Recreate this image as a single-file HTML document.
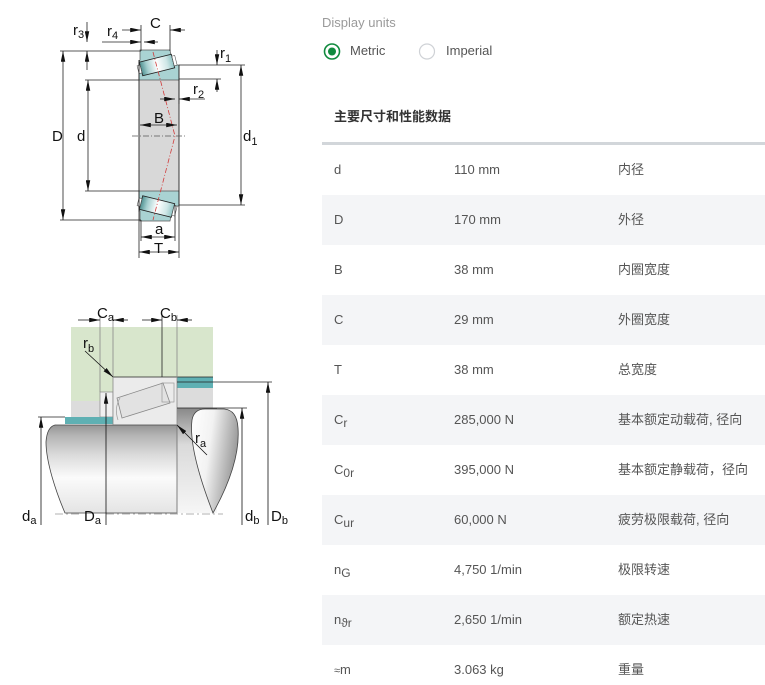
<!DOCTYPE html>
<html><head><meta charset="utf-8"><style>
html,body{margin:0;padding:0;background:#fff;width:765px;height:685px;overflow:hidden;position:relative;font-family:"Liberation Sans","Noto Sans CJK SC",sans-serif;}
.t{position:absolute;font-size:13px;line-height:16px;white-space:nowrap;}
.row{position:absolute;left:322px;width:443px;height:50px;font-size:13px;color:#555;line-height:50px;}
.row span{position:absolute;top:0;}
.c1{left:12px}.c2{left:132px}.c3{left:296px}
.g{background:#f4f5f7}
sub{font-size:12px;vertical-align:-3px;line-height:0}
</style></head><body>
<svg width="310" height="685" style="position:absolute;left:0;top:0" font-family="Liberation Sans, sans-serif">
<defs>
<marker id="ar" viewBox="0 0 12 5" refX="12" refY="2.5" markerWidth="11" markerHeight="4.5" markerUnits="userSpaceOnUse" orient="auto-start-reverse"><path d="M0,0 L12,2.5 L0,5 z" fill="#111"/></marker>
<linearGradient id="roll" x1="0" y1="0" x2="1" y2="0"><stop offset="0" stop-color="#4f9090"/><stop offset="0.2" stop-color="#a6d0d0"/><stop offset="0.5" stop-color="#ffffff"/><stop offset="0.8" stop-color="#cfe7e7"/><stop offset="1" stop-color="#8fc4c4"/></linearGradient>
<linearGradient id="shaft" x1="0" y1="0" x2="0" y2="1"><stop offset="0" stop-color="#959595"/><stop offset="0.12" stop-color="#b4b4b4"/><stop offset="0.35" stop-color="#dcdcdc"/><stop offset="0.6" stop-color="#fbfbfb"/><stop offset="1" stop-color="#e4e4e4"/></linearGradient>
<linearGradient id="shoul" x1="0" y1="0" x2="0" y2="1"><stop offset="0" stop-color="#888"/><stop offset="0.35" stop-color="#dadada"/><stop offset="1" stop-color="#f6f6f6"/></linearGradient>
<linearGradient id="tear" x1="0" y1="0" x2="1" y2="0.3"><stop offset="0" stop-color="#ffffff"/><stop offset="0.45" stop-color="#f2f2f2"/><stop offset="1" stop-color="#9a9a9a"/></linearGradient>
</defs>

<!-- ===== TOP DIAGRAM ===== -->
<rect x="139" y="80" width="40" height="111" fill="#d8d8d8"/>
<polygon points="140,50 170,50 171,56 170,65 179,65 179,80 139,80 139,62 140,60" fill="#a9d3d3" stroke="#555" stroke-width="0.7"/>
<polygon points="140,221 170,221 171,215 170,206 179,206 179,191 139,191 139,209 140,211" fill="#a9d3d3" stroke="#555" stroke-width="0.7"/>
<g transform="translate(157,65) rotate(-14)"><rect x="-16.5" y="-7" width="33" height="14" fill="url(#roll)" stroke="#222" stroke-width="0.8"/><rect x="16.5" y="-5" width="3" height="10" fill="#fff" stroke="#555" stroke-width="0.6"/><rect x="-19.5" y="-4" width="3" height="8" fill="#fff" stroke="#555" stroke-width="0.6"/></g>
<g transform="translate(157,206.5) rotate(14)"><rect x="-16.5" y="-7" width="33" height="14" fill="url(#roll)" stroke="#222" stroke-width="0.8"/><rect x="16.5" y="-5" width="3" height="10" fill="#fff" stroke="#555" stroke-width="0.6"/><rect x="-19.5" y="-4" width="3" height="8" fill="#fff" stroke="#555" stroke-width="0.6"/></g>
<g stroke="#222" stroke-width="0.9" fill="none">
<line x1="139" y1="60" x2="139" y2="212"/>
<line x1="179" y1="65" x2="179" y2="206"/>
</g>
<line x1="132" y1="136" x2="185" y2="136" stroke="#555" stroke-width="0.7" stroke-dasharray="6,2,1,2"/>
<polyline points="153,52 175,136 153,220" fill="none" stroke="#d03c3c" stroke-width="0.8" stroke-dasharray="5,2,1,2"/>

<g stroke="#222" stroke-width="0.8" fill="none">
<line x1="60" y1="51" x2="141" y2="51"/>
<line x1="60" y1="220" x2="141" y2="220"/>
<line x1="85" y1="80" x2="139" y2="80"/>
<line x1="85" y1="191" x2="139" y2="191"/>
<line x1="179" y1="65" x2="245" y2="65"/>
<line x1="179" y1="205" x2="245" y2="205"/>
<line x1="179" y1="79" x2="221" y2="79"/>
<line x1="141" y1="25" x2="141" y2="51"/>
<line x1="170" y1="25" x2="170" y2="51"/>
<line x1="139" y1="212" x2="139" y2="258"/>
<line x1="179" y1="205" x2="179" y2="258"/>
<line x1="175" y1="205" x2="175" y2="241"/>
<line x1="141" y1="220" x2="141" y2="241"/>
<line x1="179" y1="80" x2="179" y2="104"/>
<line x1="63" y1="51" x2="63" y2="220" marker-start="url(#ar)" marker-end="url(#ar)"/>
<line x1="88" y1="80" x2="88" y2="191" marker-start="url(#ar)" marker-end="url(#ar)"/>
<line x1="241" y1="65" x2="241" y2="205" marker-start="url(#ar)" marker-end="url(#ar)"/>
<line x1="122" y1="30" x2="141" y2="30" marker-end="url(#ar)"/>
<line x1="185" y1="30" x2="170" y2="30" marker-end="url(#ar)"/>
<line x1="102" y1="42" x2="141" y2="42" marker-end="url(#ar)"/>
<line x1="158" y1="42" x2="144" y2="42" marker-end="url(#ar)"/>
<line x1="87" y1="22" x2="87" y2="42" marker-end="url(#ar)"/>
<line x1="87" y1="70" x2="87" y2="51" marker-end="url(#ar)"/>
<line x1="217" y1="50" x2="217" y2="65" marker-end="url(#ar)"/>
<line x1="217" y1="92" x2="217" y2="79" marker-end="url(#ar)"/>
<line x1="160" y1="99" x2="175" y2="99" marker-end="url(#ar)"/>
<line x1="205" y1="99" x2="179" y2="99" marker-end="url(#ar)"/>
<line x1="140" y1="125" x2="177" y2="125" marker-start="url(#ar)" marker-end="url(#ar)"/>
<line x1="141" y1="237" x2="175" y2="237" marker-start="url(#ar)" marker-end="url(#ar)"/>
<line x1="139" y1="252" x2="179" y2="252" marker-start="url(#ar)" marker-end="url(#ar)"/>
</g>
<g font-size="15" fill="#111">
<text x="73" y="35">r<tspan font-size="11" dy="3">3</tspan></text>
<text x="107" y="36">r<tspan font-size="11" dy="3">4</tspan></text>
<text x="150" y="28">C</text>
<text x="220" y="58">r<tspan font-size="11" dy="4">1</tspan></text>
<text x="193" y="94">r<tspan font-size="11" dy="4">2</tspan></text>
<text x="52" y="141">D</text>
<text x="77" y="141">d</text>
<text x="154" y="123">B</text>
<text x="243" y="141">d<tspan font-size="11" dy="4">1</tspan></text>
<text x="155" y="234">a</text>
<text x="154" y="253">T</text>
</g>

<!-- ===== BOTTOM DIAGRAM ===== -->
<rect x="71" y="327" width="142" height="50" fill="#d8e6cc"/>
<rect x="71" y="377" width="42" height="15" fill="#d8e6cc"/>
<rect x="71" y="392" width="29" height="9" fill="#d8e6cc"/>
<rect x="71" y="401" width="29" height="16" fill="#dcdcdc"/>
<rect x="100" y="392" width="13" height="25" fill="#f0f0f0" stroke="#888" stroke-width="0.7"/>
<rect x="65" y="417" width="48" height="7" fill="#5fb0b3"/>
<rect x="162" y="377" width="51" height="5" fill="#5fb0b3"/>
<rect x="177" y="382" width="36" height="6" fill="#5fb0b3"/>
<rect x="177" y="388" width="36" height="20" fill="#dcdcdc"/>
<rect x="113" y="377" width="64" height="48" fill="#ebebeb"/>
<polygon points="117,398 163,383 170,403 122,418" fill="#e2e2e2" stroke="#888" stroke-width="0.8"/>
<rect x="162" y="383" width="12" height="19" fill="none" stroke="#999" stroke-width="0.7"/>
<path d="M120,398 Q114,408 118,420" fill="none" stroke="#999" stroke-width="0.7"/>
<!-- shaft -->
<rect x="177" y="408" width="40" height="105" fill="url(#shoul)"/>
<path d="M55,425 L177,425 L177,513 L65,513 C56,492 46,462 46,442 Q47,427 55,425 Z" fill="url(#shaft)" stroke="#444" stroke-width="0.8"/>
<path d="M213,513 C201,482 189,444 192,420 Q194,409 205,409 L224,409 Q237,410 238,428 C240,455 228,486 213,513 Z" fill="url(#tear)" stroke="#444" stroke-width="0.8"/>
<g stroke-width="0.8" fill="none">
<line x1="113" y1="377" x2="213" y2="377" stroke="#222"/>
<line x1="100" y1="315" x2="100" y2="392" stroke="#888"/>
<line x1="113" y1="315" x2="113" y2="425" stroke="#888"/>
<line x1="162" y1="315" x2="162" y2="377" stroke="#222"/>
<line x1="177" y1="315" x2="177" y2="513" stroke="#888"/>
<line x1="177" y1="382" x2="272" y2="382" stroke="#222"/>
<line x1="177" y1="408" x2="247" y2="408" stroke="#222"/>
<line x1="38" y1="417" x2="65" y2="417" stroke="#222"/>
<line x1="55" y1="514" x2="80" y2="514" stroke="#999" stroke-dasharray="8,3,2,3"/>
<line x1="106" y1="514" x2="223" y2="514" stroke="#999" stroke-dasharray="8,3,2,3"/>
</g>
<g stroke="#111" stroke-width="0.8" fill="none">
<line x1="41" y1="525" x2="41" y2="417" marker-end="url(#ar)"/>
<line x1="106" y1="525" x2="106" y2="393" marker-end="url(#ar)"/>
<line x1="242" y1="525" x2="242" y2="408" marker-end="url(#ar)"/>
<line x1="268" y1="525" x2="268" y2="382" marker-end="url(#ar)"/>
<line x1="78" y1="320" x2="100" y2="320" marker-end="url(#ar)"/>
<line x1="128" y1="320" x2="113" y2="320" marker-end="url(#ar)"/>
<line x1="142" y1="320" x2="162" y2="320" marker-end="url(#ar)"/>
<line x1="192" y1="320" x2="177" y2="320" marker-end="url(#ar)"/>
<line x1="85" y1="351" x2="113" y2="377" marker-end="url(#ar)"/>
<line x1="207" y1="455" x2="177" y2="425" marker-end="url(#ar)"/>
</g>
<g font-size="15" fill="#111">
<text x="97" y="318">C<tspan font-size="11" dy="3">a</tspan></text>
<text x="160" y="318">C<tspan font-size="11" dy="3">b</tspan></text>
<text x="83" y="348">r<tspan font-size="11" dy="4">b</tspan></text>
<text x="195" y="443">r<tspan font-size="11" dy="4">a</tspan></text>
<text x="22" y="521">d<tspan font-size="11" dy="3">a</tspan></text>
<text x="84" y="521">D<tspan font-size="11" dy="3">a</tspan></text>
<text x="245" y="521">d<tspan font-size="11" dy="3">b</tspan></text>
<text x="271" y="521">D<tspan font-size="11" dy="3">b</tspan></text>
</g>
</svg>

<!-- ===== RIGHT PANEL ===== -->
<div class="t" style="left:322px;top:15px;color:#9a9a9a;">Display units</div>
<svg width="120" height="24" style="position:absolute;left:322px;top:40px">
<circle cx="10" cy="11.5" r="7.5" fill="#fff" stroke="#108a3e" stroke-width="1.6"/>
<circle cx="10" cy="11.5" r="4" fill="#108a3e"/>
<circle cx="105" cy="11.5" r="7.5" fill="#fff" stroke="#cfd2d6" stroke-width="1.2"/>
</svg>
<div class="t" style="left:350px;top:43px;color:#555;">Metric</div>
<div class="t" style="left:446px;top:43px;color:#555;">Imperial</div>
<div class="t" style="left:334px;top:109px;color:#333;font-weight:bold;">主要尺寸和性能数据</div>
<div style="position:absolute;left:322px;top:142px;width:443px;height:3px;background:#d2d6da"></div>

<div class="row" style="top:145px"><span class="c1">d</span><span class="c2">110 mm</span><span class="c3">内径</span></div>
<div class="row g" style="top:195px"><span class="c1">D</span><span class="c2">170 mm</span><span class="c3">外径</span></div>
<div class="row" style="top:245px"><span class="c1">B</span><span class="c2">38 mm</span><span class="c3">内圈宽度</span></div>
<div class="row g" style="top:295px"><span class="c1">C</span><span class="c2">29 mm</span><span class="c3">外圈宽度</span></div>
<div class="row" style="top:345px"><span class="c1">T</span><span class="c2">38 mm</span><span class="c3">总宽度</span></div>
<div class="row g" style="top:395px"><span class="c1">C<sub>r</sub></span><span class="c2">285,000 N</span><span class="c3">基本额定动载荷, 径向</span></div>
<div class="row" style="top:445px"><span class="c1">C<sub>0r</sub></span><span class="c2">395,000 N</span><span class="c3">基本额定静载荷，径向</span></div>
<div class="row g" style="top:495px"><span class="c1">C<sub>ur</sub></span><span class="c2">60,000 N</span><span class="c3">疲劳极限载荷, 径向</span></div>
<div class="row" style="top:545px"><span class="c1">n<sub>G</sub></span><span class="c2">4,750 1/min</span><span class="c3">极限转速</span></div>
<div class="row g" style="top:595px"><span class="c1">n<sub>ϑr</sub></span><span class="c2">2,650 1/min</span><span class="c3">额定热速</span></div>
<div class="row" style="top:645px"><span class="c1"><span style="position:static;font-size:11px">≈</span>m</span><span class="c2">3.063 kg</span><span class="c3">重量</span></div>
</body></html>
